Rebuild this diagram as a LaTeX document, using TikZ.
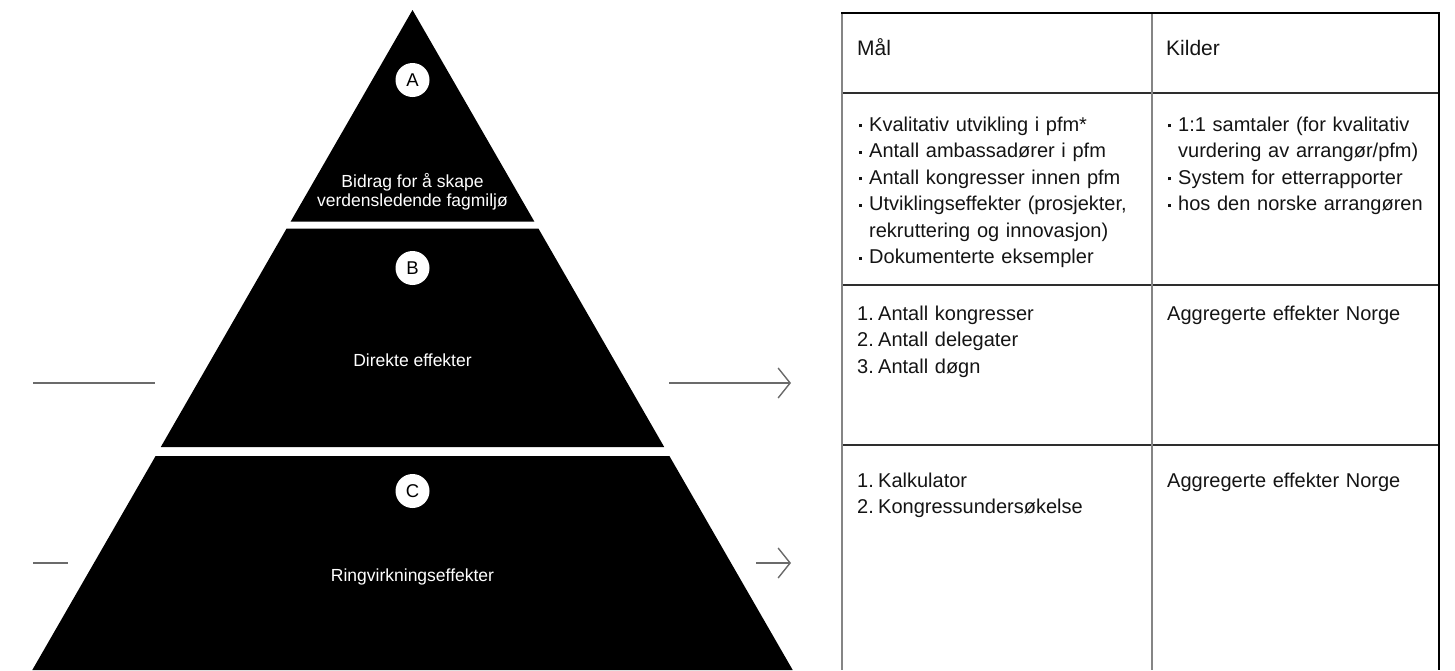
\documentclass[tikz,border=0pt]{standalone}
\usepackage{fontspec}
\setmainfont{Liberation Sans}
\usetikzlibrary{arrows.meta}

% small square bullet and fixed-width list labels
\newcommand\sqbul{\makebox[12pt][l]{\hspace{1.5pt}\raisebox{3.6pt}{\rule{3.4pt}{3.4pt}}}}
\newcommand\contind{\hspace*{12pt}}
\newcommand\numlab[1]{\makebox[21pt][l]{#1}}

\begin{document}
\begin{tikzpicture}[x=1pt,y=-1pt,
  tier/.style={fill=black,draw=none},
  badge/.style={circle,fill=white,draw=none,minimum size=34pt,inner sep=0pt,
    font=\fontsize{18.5}{18.5}\selectfont,text=black},
  tierlabel/.style={text=white,align=center,inner sep=0pt,
    font=\fontsize{17.5}{19}\selectfont},
  guide/.style={draw=black!58,line width=1.4pt},
  tip/.style={-{Straight Barb[length=12pt,width=30pt,line width=1.4pt]}},
  hdr/.style={anchor=base west,inner sep=0pt,text=black!92,
    font=\fontsize{21}{26}\selectfont},
  cell/.style={anchor=base west,inner sep=0pt,align=left,text width=285pt,
    text=black!92,font=\fontsize{20}{26.5}\selectfont},
  vrule/.style={draw=black!48,line width=2pt},
  hrule/.style={draw=black!82,line width=2.2pt},
]
\useasboundingbox (0,0) rectangle (1455,670);

% ---------- pyramid ----------
\path[tier] (412.5,10) -- (534.3,221.5) -- (290.7,221.5) -- cycle;
\path[tier] (286.6,228.5) -- (538.4,228.5) -- (664.2,447) -- (160.8,447) -- cycle;
\path[tier] (155.6,456) -- (669.4,456) -- (792.7,670) -- (32.3,670) -- cycle;

\node[badge] (ba) at (412.5,80) {A};
\node[badge] (bb) at (412.5,268) {B};
\node[badge] (bc) at (412.5,491) {C};

\node[tierlabel] (la) at (412.5,192) {Bidrag for å skape\\verdensledende fagmiljø};
\node[tierlabel] (lb) at (412.5,360) {Direkte effekter};
\node[tierlabel] (lc) at (412.5,577) {Ringvirkningseffekter};

% ---------- side lines and arrows ----------
\coordinate (l1a) at (33,383);  \coordinate (l1b) at (155,383);
\coordinate (l2a) at (33,563);  \coordinate (l2b) at (68,563);
\coordinate (r1a) at (669,383); \coordinate (r1b) at (791,383);
\coordinate (r2a) at (756,563); \coordinate (r2b) at (791,563);
\draw[guide] (l1a) -- (l1b);
\draw[guide] (l2a) -- (l2b);
\draw[guide,tip] (r1a) -- (r1b);
\draw[guide,tip] (r2a) -- (r2b);

% ---------- table ----------
\coordinate (tl) at (842,13);   \coordinate (tr) at (1439,13);
\coordinate (tm) at (1152,13);
\coordinate (bl) at (842,670);  \coordinate (br) at (1439,670);
\coordinate (bm) at (1152,670);
\coordinate (h1l) at (842,93);  \coordinate (h1r) at (1439,93);
\coordinate (h2l) at (842,285); \coordinate (h2r) at (1439,285);
\coordinate (h3l) at (842,445); \coordinate (h3r) at (1439,445);

\draw[hrule] (h1l) -- (h1r);
\draw[hrule] (h2l) -- (h2r);
\draw[hrule] (h3l) -- (h3r);
\draw[vrule] (tl) -- (bl);
\draw[vrule] (tm) -- (bm);
\draw[draw=black,line width=1.8pt] (tr) -- (br);
\draw[draw=black,line width=1.6pt] ([xshift=-1pt]tl) -- ([xshift=1pt]tr);

\node[hdr] (hmal) at (857,55.5) {Mål};
\node[hdr] (hkil) at (1166,55.5) {Kilder};

\node[cell] (c1l) at (857,131) {%
  \sqbul Kvalitativ utvikling i pfm*\\
  \sqbul Antall ambassadører i pfm\\
  \sqbul Antall kongresser innen pfm\\
  \sqbul Utviklingseffekter (prosjekter,\\
  \contind rekruttering og innovasjon)\\
  \sqbul Dokumenterte eksempler};
\node[cell,text width=270pt] (c1r) at (1166,131) {%
  \sqbul 1:1 samtaler (for kvalitativ\\
  \contind vurdering av arrangør/pfm)\\
  \sqbul System for etterrapporter\\
  \sqbul hos den norske arrangøren};

\node[cell] (c2l) at (857,320) {%
  \numlab{1.}Antall kongresser\\
  \numlab{2.}Antall delegater\\
  \numlab{3.}Antall døgn};
\node[cell,text width=270pt] (c2r) at (1167,320) {Aggregerte effekter Norge};

\node[cell] (c3l) at (857,487) {%
  \numlab{1.}Kalkulator\\
  \numlab{2.}Kongressundersøkelse};
\node[cell,text width=270pt] (c3r) at (1167,487) {Aggregerte effekter Norge};
\end{tikzpicture}
\end{document}
